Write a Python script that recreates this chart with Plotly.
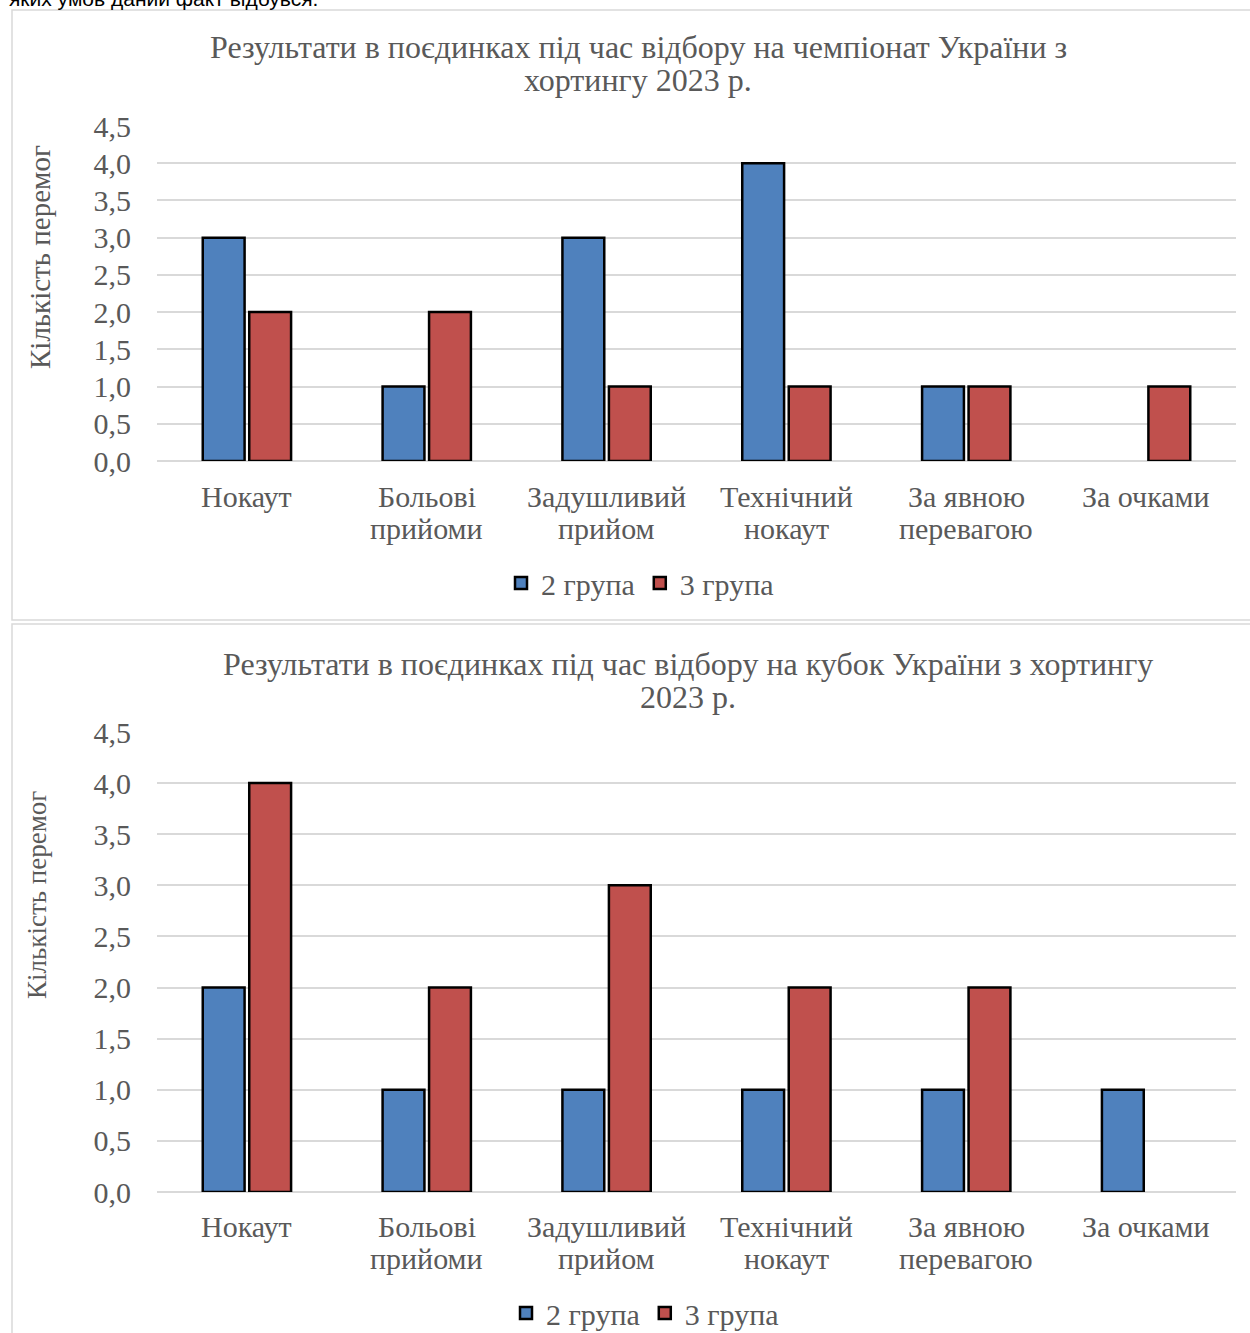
import plotly.graph_objects as go

W, H = 1250, 1333

categories = ["Нокаут", "Больові прийоми", "Задушливий прийом", "Технічний нокаут", "За явною перевагою", "За очками"]
cat_line1 = ["Нокаут", "Больові", "Задушливий", "Технічний", "За явною", "За очками"]
cat_line2 = ["", "прийоми", "прийом", "нокаут", "перевагою", ""]
series_names = ["2 група", "3 група"]

champ_group2 = [3, 1, 3, 4, 1, None]
champ_group3 = [2, 2, 1, 1, 1, 1]

cup_group2 = [2, 1, 1, 1, 1, 1]
cup_group3 = [4, 2, 3, 2, 2, None]

y_ticks = [0, 0.5, 1, 1.5, 2, 2.5, 3, 3.5, 4, 4.5]

title1_lines = ["Результати в поєдинках під час відбору на чемпіонат України з", "хортингу 2023 р."]
title2_lines = ["Результати в поєдинках під час відбору на кубок України з хортингу", "2023 р."]
y_title = "Кількість перемог"
top_text = "яких умов даний факт відбувся."

BLUE = "#4F81BD"
RED = "#C0504D"
GRAY = "#595959"
GRID = "#D9D9D9"
FONT = "Liberation Serif"

def px_x(p):
    return p / W

def px_y(p):
    return 1 - p / H

fig = go.Figure()

for vals, name, color, xa, ya, leg in [
    (champ_group2, series_names[0], BLUE, "x", "y", "legend"),
    (champ_group3, series_names[1], RED, "x", "y", "legend"),
    (cup_group2, series_names[0], BLUE, "x2", "y2", "legend2"),
    (cup_group3, series_names[1], RED, "x2", "y2", "legend2"),
]:
    fig.add_trace(go.Bar(
        x=categories, y=vals, name=name, xaxis=xa, yaxis=ya, legend=leg,
        marker=dict(color=color, line=dict(color="black", width=2.5)),
        hoverinfo="skip",
    ))

xcommon = dict(
    domain=[px_x(157), px_x(1236)], showgrid=False, zeroline=False, showline=False,
    ticks="", showticklabels=False, fixedrange=True,
)
ycommon = dict(
    range=[0, 4.5], tickvals=y_ticks, tickformat=".1f", showgrid=True, gridcolor=GRID,
    gridwidth=1.5, zeroline=True, zerolinecolor=GRID, zerolinewidth=1.5, showline=False,
    ticks="", ticklabelstandoff=25, tickfont=dict(family=FONT, size=30, color=GRAY), fixedrange=True,
)

fig.update_layout(
    width=W, height=H,
    margin=dict(l=0, r=0, t=0, b=0, autoexpand=False),
    paper_bgcolor="white", plot_bgcolor="white",
    separators=", ",
    barmode="group", bargap=0.483, bargroupgap=0.1,
    font=dict(family=FONT, color=GRAY),
    xaxis=dict(**xcommon, anchor="y"),
    yaxis=dict(**ycommon, domain=[px_y(461), px_y(126)], anchor="x"),
    xaxis2=dict(**xcommon, anchor="y2"),
    yaxis2=dict(**ycommon, domain=[px_y(1192), px_y(732)], anchor="x2"),
    legend=dict(orientation="h", x=px_x(640), xanchor="center", y=px_y(583), yanchor="middle",
                font=dict(family=FONT, size=30, color=GRAY), bgcolor="rgba(0,0,0,0)"),
    legend2=dict(orientation="h", x=px_x(645), xanchor="center", y=px_y(1313), yanchor="middle",
                 font=dict(family=FONT, size=30, color=GRAY), bgcolor="rgba(0,0,0,0)"),
    showlegend=True,
)

# chart borders
fig.add_shape(type="rect", xref="paper", yref="paper",
              x0=px_x(12), x1=px_x(1262), y0=px_y(620), y1=px_y(10),
              line=dict(color=GRID, width=1.5), fillcolor="rgba(0,0,0,0)", layer="below")
fig.add_shape(type="rect", xref="paper", yref="paper",
              x0=px_x(12), x1=px_x(1262), y0=px_y(1345), y1=px_y(624),
              line=dict(color=GRID, width=1.5), fillcolor="rgba(0,0,0,0)", layer="below")

def ann(text, x, y, size, xref="paper", color=GRAY, family=FONT, angle=0, xanchor="center"):
    fig.add_annotation(text=text, xref=xref, yref="paper", x=x, y=y,
                       xanchor=xanchor, yanchor="middle", showarrow=False, textangle=angle,
                       font=dict(family=family, size=size, color=color))

# titles (one annotation per line for tight line spacing)
for i, line in enumerate(title1_lines):
    ann(line, px_x(638), px_y(47 + 33 * i), 32)
for i, line in enumerate(title2_lines):
    ann(line, px_x(688), px_y(664 + 33 * i), 32)

# category labels
for xa, base in [("x", 496), ("x2", 1226)]:
    for cat, l1, l2 in zip(categories, cat_line1, cat_line2):
        ann(l1, cat, px_y(base), 30, xref=xa)
        if l2:
            ann(l2, cat, px_y(base + 32), 30, xref=xa)

# y axis titles
ann(y_title, px_x(40), px_y(257), 29, angle=-90)
ann(y_title, px_x(37), px_y(895), 27, angle=-90)

# cut-off text at top (the reference shows it clipped by the page edge)
ann(top_text, px_x(7), px_y(-2), 21, color="black", family="Liberation Sans", xanchor="left")

fig.write_html(
    "out.html",
    config={"displayModeBar": False},
    post_script="var d=document.getElementById('{plot_id}');d.style.position='fixed';"
                "d.style.top='0px';d.style.left='0px';document.body.style.margin='0';"
                "document.body.style.overflow='hidden';",
)
